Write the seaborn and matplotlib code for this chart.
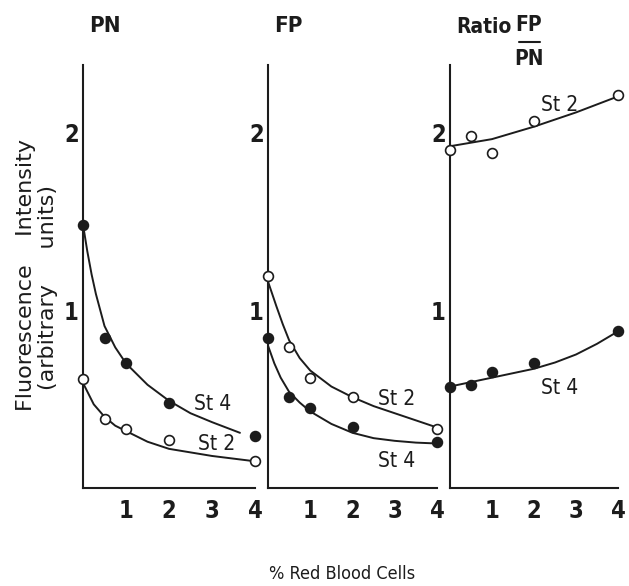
import matplotlib
matplotlib.use("Agg")
import matplotlib.pyplot as plt
import seaborn as sns
from matplotlib.ticker import FixedLocator, MultipleLocator

# ---------------- data ----------------
rbc_pct = [0, 0.5, 1, 2, 4]

pn_st4 = [1.48, 0.84, 0.70, 0.48, 0.29]
pn_st2 = [0.61, 0.39, 0.33, 0.27, 0.15]
fp_st2 = [1.19, 0.79, 0.62, 0.51, 0.33]
fp_st4 = [0.84, 0.51, 0.45, 0.34, 0.26]
ratio_st2 = [1.90, 1.98, 1.88, 2.06, 2.21]
ratio_st4 = [0.57, 0.58, 0.65, 0.70, 0.88]

# drawn (fitted) curves
pn_st4_curve_x = [0, 0.1, 0.2, 0.3, 0.4, 0.5, 0.75, 1, 1.5, 2, 2.5, 3, 3.65]
pn_st4_curve_y = [1.48, 1.33, 1.20, 1.09, 1.00, 0.91, 0.79, 0.70, 0.58, 0.49, 0.42, 0.37, 0.31]
pn_st2_curve_x = [0, 0.25, 0.5, 0.75, 1, 1.5, 2, 2.5, 3, 3.5, 4]
pn_st2_curve_y = [0.59, 0.47, 0.40, 0.35, 0.32, 0.26, 0.22, 0.20, 0.18, 0.165, 0.15]
fp_st2_curve_x = [0, 0.2, 0.35, 0.5, 0.75, 1, 1.5, 2, 2.5, 3, 3.5, 4]
fp_st2_curve_y = [1.16, 1.02, 0.92, 0.83, 0.73, 0.66, 0.57, 0.51, 0.46, 0.42, 0.38, 0.34]
fp_st4_curve_x = [0, 0.15, 0.3, 0.5, 0.75, 1, 1.5, 2, 2.5, 3, 3.5, 4]
fp_st4_curve_y = [0.80, 0.70, 0.62, 0.54, 0.48, 0.43, 0.36, 0.31, 0.28, 0.265, 0.255, 0.25]
ratio_st2_curve_x = [0, 0.5, 1, 1.5, 2, 2.5, 3, 3.5, 4]
ratio_st2_curve_y = [1.92, 1.94, 1.96, 1.995, 2.03, 2.07, 2.11, 2.155, 2.20]
ratio_st4_curve_x = [0, 0.5, 1, 1.5, 2, 2.5, 3, 3.5, 4]
ratio_st4_curve_y = [0.57, 0.595, 0.62, 0.645, 0.67, 0.705, 0.75, 0.81, 0.88]

x_ticks = [1, 2, 3, 4]
y_ticks = [1, 2]
panel_titles = ["PN", "FP"]

# ---------------- style ----------------
sns.set_style("white")
plt.rcParams['font.family'] = ['DejaVu Sans']
plt.rcParams['font.stretch'] = 'condensed'
plt.rcParams['font.weight'] = 'bold'
INK = "#1c1c1c"

W, H = 629, 586
fig = plt.figure(figsize=(W / 100, H / 100), dpi=100)

def px_axes(left, right, bottom, top):
    return fig.add_axes([left / W, 1 - bottom / H, (right - left) / W, (bottom - top) / H])

YMAX = (488 - 65) / 178.0

panels = [
    (px_axes(83, 255, 488, 65),
     [(pn_st4_curve_x, pn_st4_curve_y), (pn_st2_curve_x, pn_st2_curve_y)],
     [(pn_st4, True), (pn_st2, False)],
     [("St 4", 3.02, 0.47), ("St 2", 3.1, 0.25)]),
    (px_axes(268, 437, 488, 65),
     [(fp_st2_curve_x, fp_st2_curve_y), (fp_st4_curve_x, fp_st4_curve_y)],
     [(fp_st2, False), (fp_st4, True)],
     [("St 2", 3.05, 0.50), ("St 4", 3.05, 0.15)]),
    (px_axes(450, 618, 488, 65),
     [(ratio_st2_curve_x, ratio_st2_curve_y), (ratio_st4_curve_x, ratio_st4_curve_y)],
     [(ratio_st2, False), (ratio_st4, True)],
     [("St 2", 2.62, 2.15), ("St 4", 2.62, 0.56)]),
]

for ax, curves, pts, labels in panels:
    for cx, cy in curves:
        sns.lineplot(x=cx, y=cy, ax=ax, color=INK, lw=1.4, sort=False,
                     estimator=None, clip_on=False)
    for vals, filled in pts:
        sns.scatterplot(x=rbc_pct, y=vals, ax=ax, marker="o", s=50,
                        color=INK if filled else "white", edgecolor=INK,
                        linewidth=1.2, zorder=4, clip_on=False)
    for txt, tx, ty in labels:
        ax.text(tx, ty, txt, ha="center", va="center", fontsize=15, color=INK,
                fontweight="normal")

    ax.set_xlim(0, 4)
    ax.set_ylim(0, YMAX)
    for s in ("top", "right"):
        ax.spines[s].set_visible(False)
    for s in ("left", "bottom"):
        ax.spines[s].set_color(INK)
        ax.spines[s].set_linewidth(1.5)
    ax.xaxis.set_major_locator(FixedLocator(x_ticks))
    ax.yaxis.set_major_locator(FixedLocator(y_ticks))
    ax.xaxis.set_minor_locator(MultipleLocator(0.5))
    ax.set_xticklabels([str(t) for t in x_ticks])
    ax.set_yticklabels([str(t) for t in y_ticks])
    ax.tick_params(axis="both", which="major", direction="in", length=4, width=1.2,
                   color=INK, labelcolor=INK, labelsize=17, pad=5)
    ax.tick_params(axis="x", which="minor", direction="in", length=2, width=1, color=INK)
    ax.tick_params(axis="x", which="major", pad=8)
    ax.tick_params(axis="y", which="major", pad=3)
    ax.set_xlabel("")
    ax.set_ylabel("")
    ax.patch.set_alpha(0)

# titles
fig.text(105 / W, 1 - 26 / H, panel_titles[0], ha="center", va="center", fontsize=16, color=INK)
fig.text(288 / W, 1 - 26 / H, panel_titles[1], ha="center", va="center", fontsize=16, color=INK)
fig.text(484 / W, 1 - 27 / H, "Ratio", ha="center", va="center", fontsize=15, color=INK)
fig.text(529 / W, 1 - 25 / H, "FP", ha="center", va="center", fontsize=15, color=INK)
fig.add_artist(plt.Line2D([519 / W, 540 / W], [1 - 42 / H, 1 - 42 / H], color=INK, lw=1.5))
fig.text(529 / W, 1 - 59 / H, "PN", ha="center", va="center", fontsize=15, color=INK)

# axis labels
fig.text(26 / W, 1 - 275 / H, "Fluorescence    Intensity", rotation=90, ha="center",
         va="center", fontsize=16, color=INK, stretch="normal", fontweight="normal")
fig.text(48 / W, 1 - 287 / H, "(arbitrary     units)", rotation=90, ha="center",
         va="center", fontsize=16, color=INK, stretch="normal", fontweight="normal")
fig.text(342 / W, 1 - 574 / H, "% Red Blood Cells", ha="center", va="center",
         fontsize=13, color=INK, fontweight="normal")

fig.savefig("out.png", dpi=100)
